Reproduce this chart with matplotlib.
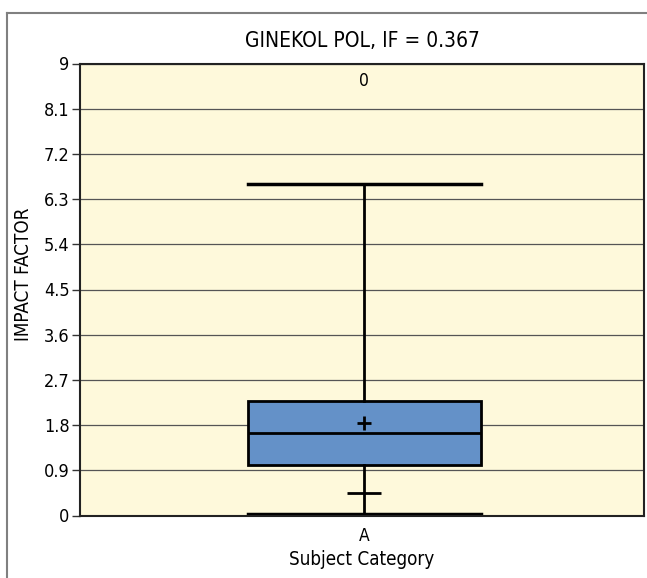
import numpy as np
import matplotlib
matplotlib.use('Agg')
import matplotlib.pyplot as plt
from matplotlib.lines import Line2D

plt.rcParams['font.family'] = ['DejaVu Sans']
plt.rcParams['font.stretch'] = 'condensed'

# data
categories = ['A']
whisker_low = [0.03]
q1 = [1.01]
median = [1.65]
q3 = [2.27]
whisker_high = [6.60]
mean = [1.85]
journal_mark = [0.44]
outlier_count = ['0']
count_y = 8.66
yticks = [0, 0.9, 1.8, 2.7, 3.6, 4.5, 5.4, 6.3, 7.2, 8.1, 9]
ytick_labels = ['0', '0.9', '1.8', '2.7', '3.6', '4.5', '5.4', '6.3', '7.2', '8.1', '9']

fig = plt.figure(figsize=(6.47, 5.78), dpi=100)
ax = fig.add_axes([80 / 647, 1 - 515.5 / 578, (644 - 80) / 647, (515.5 - 63.5) / 578])
ax.set_facecolor('#FEF9DB')

stats = []
for i in range(len(categories)):
    stats.append(dict(med=median[i], q1=q1[i], q3=q3[i],
                      whislo=whisker_low[i], whishi=whisker_high[i],
                      mean=mean[i], label=categories[i]))

pos = np.arange(1, len(categories) + 1)
ax.bxp(stats, positions=pos, widths=0.414, capwidths=0.414, patch_artist=True,
       showmeans=True, showfliers=False,
       boxprops=dict(facecolor='#6491C8', edgecolor='black', linewidth=2),
       medianprops=dict(color='black', linewidth=2),
       whiskerprops=dict(color='black', linewidth=2),
       capprops=dict(color='black', linewidth=2.5),
       meanprops=dict(marker='+', markersize=10, markeredgecolor='black',
                      markeredgewidth=2))

ax.plot(pos, journal_mark, linestyle='none', marker='_', markersize=24,
        markeredgewidth=2, color='black', zorder=5)

for p, c in zip(pos, outlier_count):
    ax.text(p, count_y, c, ha='center', va='center', fontsize=12.5)

ax.set_xlim(0.496, 1.496)
ax.set_ylim(0, 9)
ax.set_yticks(yticks)
ax.set_yticklabels(ytick_labels, fontsize=13)
ax.set_xticks(pos)
ax.set_xticklabels(categories, fontsize=12.5)
ax.tick_params(axis='y', length=6, width=1, direction='out', color='#333333', pad=1.5)
ax.tick_params(axis='x', length=0, pad=8)
ax.yaxis.grid(True, color='#555555', linewidth=0.9)
ax.set_axisbelow(True)
for s in ax.spines.values():
    s.set_color('#222222')
    s.set_linewidth(1.5)

ax.set_title('GINEKOL POL, IF = 0.367', fontsize=15, pad=12)
ax.set_ylabel('IMPACT FACTOR', fontsize=13.5)
ax.yaxis.set_label_coords(-0.083, 0.533)
ax.set_xlabel('Subject Category', fontsize=13.5, labelpad=4)

# outer gray frame (top and left)
fig.add_artist(Line2D([7 / 647, 1.0], [1 - 13 / 578, 1 - 13 / 578],
                      transform=fig.transFigure, color='#808080', linewidth=1.5))
fig.add_artist(Line2D([7 / 647, 7 / 647], [0, 1 - 13 / 578],
                      transform=fig.transFigure, color='#808080', linewidth=1.5))

fig.savefig('out.png', dpi=100, facecolor='white')
